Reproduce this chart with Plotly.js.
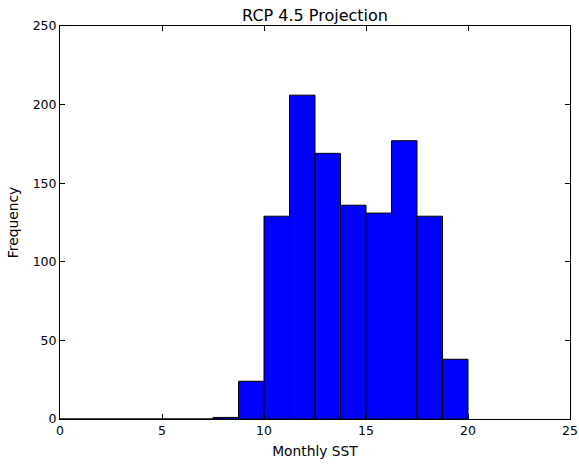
<!DOCTYPE html>
<html>
<head>
<meta charset="utf-8">
<script src="https://cdn.plot.ly/plotly-3.0.1.min.js"></script>
<style>html,body{margin:0;padding:0;background:#fff;}#chart{width:579px;height:467px;}</style>
</head>
<body>
<div id="chart"></div>
<script>
const binStarts = [0, 1.25, 2.5, 3.75, 5, 6.25, 7.5, 8.75, 10, 11.25, 12.5, 13.75, 15, 16.25, 17.5, 18.75];
const binWidth = 1.25;
const counts = [0, 0, 0, 0, 0, 0, 1, 24, 129, 206, 169, 136, 131, 177, 129, 38];
const xTicks = [0, 5, 10, 15, 20, 25];
const yTicks = [0, 50, 100, 150, 200, 250];

const centers = binStarts.map(s => s + binWidth / 2);

const trace = {
  type: 'bar',
  x: centers,
  y: counts,
  width: binStarts.map(() => binWidth),
  marker: {color: '#0000ff', line: {color: '#000000', width: 1}},
  hoverinfo: 'x+y'
};

const tickFont = {family: 'DejaVu Sans, sans-serif', size: 12.5, color: '#000'};
const labelFont = {family: 'DejaVu Sans, sans-serif', size: 13.8, color: '#000'};

const layout = {
  width: 579, height: 467,
  margin: {l: 60, r: 9, t: 26, b: 48},
  paper_bgcolor: '#fff', plot_bgcolor: '#fff',
  font: tickFont,
  showlegend: false,
  bargap: 0,
  title: {text: 'RCP 4.5 Projection', font: {family: 'DejaVu Sans, sans-serif', size: 16, color: '#000'}, x: 0.5, xanchor: 'center', xref: 'paper', y: 1 - 15.5 / 467, yanchor: 'middle', yref: 'container'},
  xaxis: {
    range: [0, 25], tickvals: xTicks, ticktext: xTicks.map(String),
    ticks: 'inside', ticklen: 5, tickcolor: '#000', tickwidth: 1,
    showline: true, linecolor: '#000', linewidth: 1, mirror: 'ticks',
    showgrid: false, zeroline: false,
    title: {text: 'Monthly SST', font: labelFont, standoff: 9},
    tickfont: tickFont
  },
  yaxis: {
    range: [0, 250], tickvals: yTicks, ticktext: yTicks.map(String),
    ticks: 'inside', ticklen: 5, tickcolor: '#000', tickwidth: 1,
    showline: true, linecolor: '#000', linewidth: 1, mirror: 'ticks',
    showgrid: false, zeroline: false,
    title: {text: 'Frequency', font: labelFont, standoff: 10},
    tickfont: tickFont
  }
};

Plotly.newPlot('chart', [trace], layout, {displayModeBar: false, staticPlot: true});
</script>
</body>
</html>
